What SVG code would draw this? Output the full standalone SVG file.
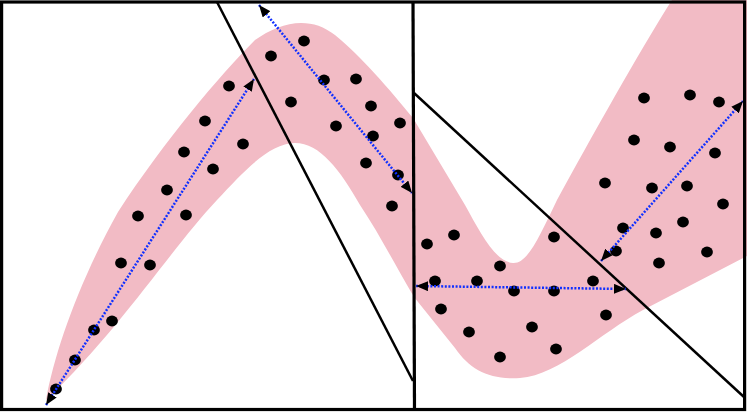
<svg xmlns="http://www.w3.org/2000/svg" width="747" height="412" viewBox="0 0 747 412">
  <style>
    .band { fill: #f2bbc5; stroke: none; }
    .dot { fill: #000000; }
    .frame { fill: none; stroke: #000000; stroke-width: 3.2; }
    .cut { fill: none; stroke: #000000; stroke-width: 2.5; }
    .span { fill: none; stroke: #1030ff; stroke-width: 2.5; stroke-dasharray: 2 1.6; marker-start: url(#head); marker-end: url(#head); }
  </style>
  <defs>
    <marker id="head" markerUnits="userSpaceOnUse" viewBox="0 0 12 10" refX="12" refY="5" markerWidth="12" markerHeight="10" orient="auto-start-reverse">
      <path d="M0,0 L12,5 L0,10 Z" fill="#000000"/>
    </marker>
  </defs>
  <rect x="0" y="0" width="747" height="412" fill="#ffffff"/>

  <g id="band">
    <path class="band" d="M46,400 C55,350 80,280 118,212 C165,140 220,75 255,40 C280,22 310,15 335,35 C360,55 390,90 413,118 L465,205 C480,232 495,262 513,263 C528,264 540,235 557,200 C590,140 640,50 672,0 L747,0 L747,256 L643,310 C600,333 560,375 520,378 C490,380 470,370 455,348 L414,297 C395,265 380,235 360,205 C340,170 320,143 295,143 C270,143 245,170 217,200 C170,250 120,330 46,400 Z"/>
  </g>

  <g id="dots-left">
    <ellipse class="dot" cx="229" cy="86" rx="5.9" ry="5.4"/>
    <ellipse class="dot" cx="205" cy="121" rx="5.9" ry="5.4"/>
    <ellipse class="dot" cx="184" cy="152" rx="5.9" ry="5.4"/>
    <ellipse class="dot" cx="213" cy="169" rx="5.9" ry="5.4"/>
    <ellipse class="dot" cx="243" cy="144" rx="5.9" ry="5.4"/>
    <ellipse class="dot" cx="167" cy="190" rx="5.9" ry="5.4"/>
    <ellipse class="dot" cx="138" cy="216" rx="5.9" ry="5.4"/>
    <ellipse class="dot" cx="186" cy="215" rx="5.9" ry="5.4"/>
    <ellipse class="dot" cx="121" cy="263" rx="5.9" ry="5.4"/>
    <ellipse class="dot" cx="150" cy="265" rx="5.9" ry="5.4"/>
    <ellipse class="dot" cx="112" cy="321" rx="5.9" ry="5.4"/>
    <ellipse class="dot" cx="94" cy="330" rx="5.9" ry="5.4"/>
    <ellipse class="dot" cx="75" cy="360" rx="5.9" ry="5.4"/>
    <ellipse class="dot" cx="56" cy="389" rx="5.9" ry="5.4"/>
    <ellipse class="dot" cx="304" cy="41" rx="5.9" ry="5.4"/>
    <ellipse class="dot" cx="271" cy="56" rx="5.9" ry="5.4"/>
    <ellipse class="dot" cx="324" cy="80" rx="5.9" ry="5.4"/>
    <ellipse class="dot" cx="356" cy="79" rx="5.9" ry="5.4"/>
    <ellipse class="dot" cx="291" cy="102" rx="5.9" ry="5.4"/>
    <ellipse class="dot" cx="371" cy="106" rx="5.9" ry="5.4"/>
    <ellipse class="dot" cx="400" cy="123" rx="5.9" ry="5.4"/>
    <ellipse class="dot" cx="336" cy="126" rx="5.9" ry="5.4"/>
    <ellipse class="dot" cx="373" cy="136" rx="5.9" ry="5.4"/>
    <ellipse class="dot" cx="366" cy="163" rx="5.9" ry="5.4"/>
    <ellipse class="dot" cx="398" cy="175" rx="5.9" ry="5.4"/>
    <ellipse class="dot" cx="392" cy="206" rx="5.9" ry="5.4"/>
  </g>

  <g id="dots-right">
    <ellipse class="dot" cx="644" cy="98" rx="5.9" ry="5.4"/>
    <ellipse class="dot" cx="690" cy="95" rx="5.9" ry="5.4"/>
    <ellipse class="dot" cx="719" cy="102" rx="5.9" ry="5.4"/>
    <ellipse class="dot" cx="634" cy="140" rx="5.9" ry="5.4"/>
    <ellipse class="dot" cx="670" cy="147" rx="5.9" ry="5.4"/>
    <ellipse class="dot" cx="715" cy="153" rx="5.9" ry="5.4"/>
    <ellipse class="dot" cx="605" cy="183" rx="5.9" ry="5.4"/>
    <ellipse class="dot" cx="652" cy="188" rx="5.9" ry="5.4"/>
    <ellipse class="dot" cx="687" cy="186" rx="5.9" ry="5.4"/>
    <ellipse class="dot" cx="723" cy="204" rx="5.9" ry="5.4"/>
    <ellipse class="dot" cx="623" cy="228" rx="5.9" ry="5.4"/>
    <ellipse class="dot" cx="656" cy="233" rx="5.9" ry="5.4"/>
    <ellipse class="dot" cx="683" cy="222" rx="5.9" ry="5.4"/>
    <ellipse class="dot" cx="616" cy="251" rx="5.9" ry="5.4"/>
    <ellipse class="dot" cx="707" cy="252" rx="5.9" ry="5.4"/>
    <ellipse class="dot" cx="659" cy="263" rx="5.9" ry="5.4"/>
    <ellipse class="dot" cx="554" cy="237" rx="5.9" ry="5.4"/>
    <ellipse class="dot" cx="454" cy="235" rx="5.9" ry="5.4"/>
    <ellipse class="dot" cx="427" cy="244" rx="5.9" ry="5.4"/>
    <ellipse class="dot" cx="500" cy="266" rx="5.9" ry="5.4"/>
    <ellipse class="dot" cx="435" cy="281" rx="5.9" ry="5.4"/>
    <ellipse class="dot" cx="477" cy="281" rx="5.9" ry="5.4"/>
    <ellipse class="dot" cx="593" cy="281" rx="5.9" ry="5.4"/>
    <ellipse class="dot" cx="514" cy="291" rx="5.9" ry="5.4"/>
    <ellipse class="dot" cx="554" cy="291" rx="5.9" ry="5.4"/>
    <ellipse class="dot" cx="441" cy="309" rx="5.9" ry="5.4"/>
    <ellipse class="dot" cx="606" cy="315" rx="5.9" ry="5.4"/>
    <ellipse class="dot" cx="469" cy="332" rx="5.9" ry="5.4"/>
    <ellipse class="dot" cx="532" cy="327" rx="5.9" ry="5.4"/>
    <ellipse class="dot" cx="500" cy="357" rx="5.9" ry="5.4"/>
    <ellipse class="dot" cx="556" cy="349" rx="5.9" ry="5.4"/>
  </g>

  <g id="cut-lines">
    <line class="cut" x1="217" y1="2" x2="413" y2="381"/>
    <line class="cut" x1="414" y1="93" x2="744" y2="397"/>
  </g>

  <g id="spans">
    <line class="span" x1="46" y1="405" x2="254" y2="79"/>
    <line class="span" x1="259" y1="5" x2="412" y2="193"/>
    <line class="span" x1="416" y1="286" x2="626" y2="289"/>
    <line class="span" x1="601" y1="261" x2="743" y2="101"/>
  </g>

  <g id="frame">
    <rect class="frame" x="1.6" y="2" width="743" height="407.5"/>
    <line class="frame" x1="413" y1="2" x2="414.5" y2="409.5"/>
  </g>
</svg>
